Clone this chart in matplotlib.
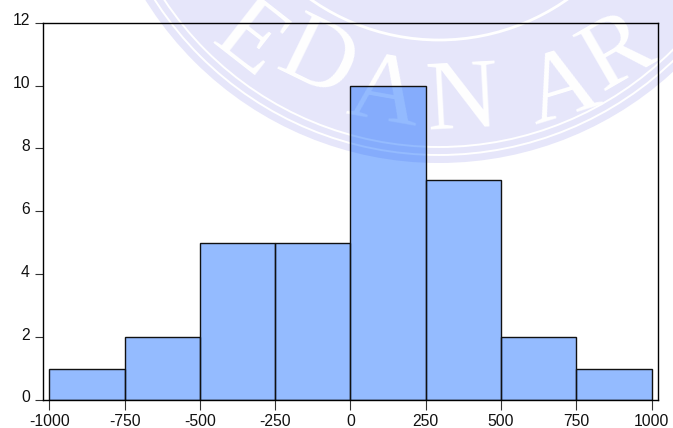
import matplotlib
matplotlib.use('Agg')
import matplotlib.pyplot as plt
from matplotlib.patches import Circle
from matplotlib.transforms import ScaledTranslation

plt.rcParams['font.family'] = ['Liberation Sans', 'DejaVu Sans']
plt.rcParams['axes.unicode_minus'] = False

bin_edges = [-1000, -750, -500, -250, 0, 250, 500, 750]
counts = [1, 2, 5, 5, 10, 7, 2, 1]
bin_width = 250
x_ticks = [-1000, -750, -500, -250, 0, 250, 500, 750, 1000]
y_ticks = [0, 2, 4, 6, 8, 10, 12]

# seal in the background, in pixels
seal_letters = ['E', 'D', 'A', 'N', 'A', 'R']
seal_x = [248, 316, 385, 462, 563, 618]
seal_y = [42, 62, 96, 103, 91, 54]
seal_rot = [-38, -26, -10, 3, 17, 30]
seal_color = '#E6E6FA'

fig = plt.figure(figsize=(6.73, 4.28), dpi=100)
bg = fig.add_axes([0, 0, 1, 1], zorder=0)
bg.set_xlim(0, 673)
bg.set_ylim(428, 0)
bg.axis('off')
bg.add_patch(Circle((439, -183), 346, fc=seal_color, ec='none'))
bg.add_patch(Circle((439, -183), 338, fc='none', ec='white', lw=1.4))
bg.add_patch(Circle((439, -183), 330, fc='none', ec='white', lw=1.4))
bg.add_patch(Circle((439, -183), 223, fc='none', ec='white', lw=2))
for s, sx, sy, r in zip(seal_letters, seal_x, seal_y, seal_rot):
    bg.text(sx, sy, s, color='white', fontsize=72, rotation=r,
            family='Liberation Serif', ha='center', va='center',
            rotation_mode='anchor', clip_on=True)

ax = fig.add_axes([42.9 / 673, 1 - 400 / 428, 615 / 673, 377.3 / 428], zorder=1)
ax.patch.set_alpha(0)
# translucent fill so the seal shows through the bars
ax.bar(bin_edges, counts, width=bin_width, align='edge',
       facecolor=(0, 93 / 255, 1, 0.42), edgecolor='#111111', linewidth=1.0)

ax.set_xlim(-1021.5, 1021)
ax.set_ylim(0, 12)
ax.set_xticks(x_ticks)
ax.set_yticks(y_ticks)
ax.tick_params(axis='x', length=7, width=0.8, color='#333333', labelsize=11.3, labelcolor='#111111', pad=3)
ax.tick_params(axis='y', length=5.8, width=0.8, color='#333333', labelsize=11.3, labelcolor='#111111', pad=3.5)
for lab in ax.get_yticklabels():
    lab.set_transform(lab.get_transform() + ScaledTranslation(0, 3.5 / 100, fig.dpi_scale_trans))
for spine in ax.spines.values():
    spine.set_linewidth(1.0)
    spine.set_color('black')

fig.savefig('out.png', dpi=100)
